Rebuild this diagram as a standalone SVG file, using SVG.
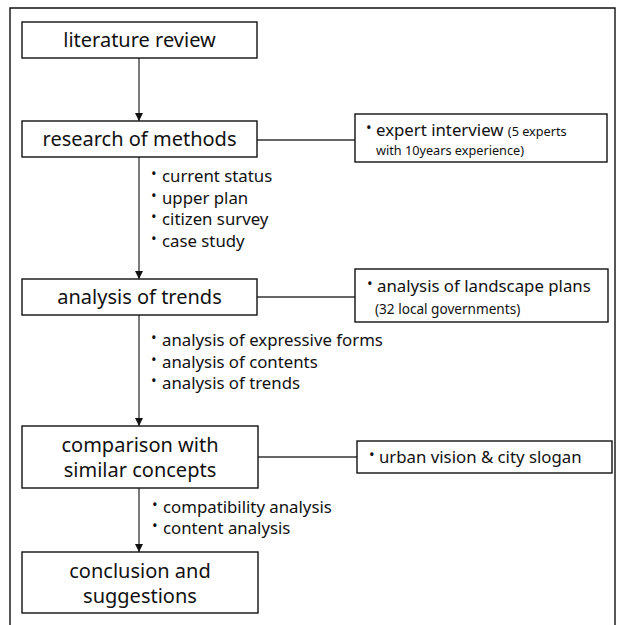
<svg xmlns="http://www.w3.org/2000/svg" width="623" height="625" viewBox="0 0 623 625">
<defs>
<style>
text{font-family:"Noto Sans","Open Sans","Liberation Sans",sans-serif;fill:#111}
.box{fill:#fff;stroke:#111;stroke-width:1.4}
.main{font-size:20px;text-anchor:middle}
.bul{font-size:16.8px}
.dot{font-size:15px}
.sm{font-size:12.7px}
.line{stroke:#333;stroke-width:1.3;fill:none}
</style>
<marker id="ah" markerWidth="8" markerHeight="8" refX="8" refY="4" orient="auto" markerUnits="userSpaceOnUse">
<path d="M0,0 L8,4 L0,8 Z" fill="#111"/>
</marker>
</defs>
<rect width="623" height="625" fill="#fff"/>
<path d="M10,630 V8 H615 V630" fill="none" stroke="#111" stroke-width="1.4"/>
<g id="connectors">
<line class="line" x1="139" y1="58" x2="139" y2="121" marker-end="url(#ah)"/>
<line class="line" x1="139" y1="157" x2="139" y2="279" marker-end="url(#ah)"/>
<line class="line" x1="139" y1="315" x2="139" y2="426" marker-end="url(#ah)"/>
<line class="line" x1="139" y1="488" x2="139" y2="552" marker-end="url(#ah)"/>
<line class="line" x1="257" y1="140" x2="355" y2="140"/>
<line class="line" x1="257" y1="297" x2="355" y2="297"/>
<line class="line" x1="257" y1="457" x2="357" y2="457"/>
</g>
<g id="literature-review">
<rect class="box" x="22" y="22" width="235" height="36"/>
<text class="main" x="139.5" y="47">literature review</text>
</g>
<g id="research-of-methods">
<rect class="box" x="22" y="121" width="235" height="36"/>
<text class="main" x="139.5" y="146">research of methods</text>
</g>
<g id="methods-notes">
<text class="bul" y="182"><tspan class="dot" x="151" dy="-3">•</tspan><tspan x="162" dy="3">current status</tspan></text>
<text class="bul" y="204"><tspan class="dot" x="151" dy="-3">•</tspan><tspan x="162" dy="3">upper plan</tspan></text>
<text class="bul" y="225"><tspan class="dot" x="151" dy="-3">•</tspan><tspan x="162" dy="3">citizen survey</tspan></text>
<text class="bul" y="247"><tspan class="dot" x="151" dy="-3">•</tspan><tspan x="162" dy="3">case study</tspan></text>
</g>
<g id="expert-interview">
<rect class="box" x="355" y="114" width="252" height="48"/>
<text y="136"><tspan class="dot" x="366" dy="-3">•</tspan><tspan class="bul" x="376" dy="3">expert interview </tspan><tspan class="sm">(5 experts</tspan></text>
<text class="sm" x="376" y="155">with 10years experience)</text>
</g>
<g id="analysis-of-trends">
<rect class="box" x="22" y="279" width="235" height="36"/>
<text class="main" x="139.5" y="304">analysis of trends</text>
</g>
<g id="trends-notes">
<text class="bul" y="346"><tspan class="dot" x="151" dy="-3">•</tspan><tspan x="162" dy="3">analysis of expressive forms</tspan></text>
<text class="bul" y="368"><tspan class="dot" x="151" dy="-3">•</tspan><tspan x="162" dy="3">analysis of contents</tspan></text>
<text class="bul" y="389"><tspan class="dot" x="151" dy="-3">•</tspan><tspan x="162" dy="3">analysis of trends</tspan></text>
</g>
<g id="landscape-plans">
<rect class="box" x="355" y="269" width="253" height="53"/>
<text class="bul" y="292"><tspan class="dot" x="367" dy="-3">•</tspan><tspan x="377" dy="3">analysis of landscape plans</tspan></text>
<text x="375" y="314" style="font-size:13.6px">(32 local governments)</text>
</g>
<g id="comparison">
<rect class="box" x="22" y="426" width="236" height="62"/>
<text class="main" x="140" y="452">comparison with</text>
<text class="main" x="140" y="477">similar concepts</text>
</g>
<g id="urban-vision">
<rect class="box" x="357" y="441" width="255" height="32"/>
<text class="bul" y="463"><tspan class="dot" x="369" dy="-3">•</tspan><tspan x="379" dy="3">urban vision &amp; city slogan</tspan></text>
</g>
<g id="comparison-notes">
<text class="bul" y="513"><tspan class="dot" x="152" dy="-3">•</tspan><tspan x="163" dy="3">compatibility analysis</tspan></text>
<text class="bul" y="534"><tspan class="dot" x="152" dy="-3">•</tspan><tspan x="163" dy="3">content analysis</tspan></text>
</g>
<g id="conclusion">
<rect class="box" x="22" y="552" width="236" height="61"/>
<text class="main" x="140" y="578">conclusion and</text>
<text class="main" x="140" y="603">suggestions</text>
</g>
</svg>
